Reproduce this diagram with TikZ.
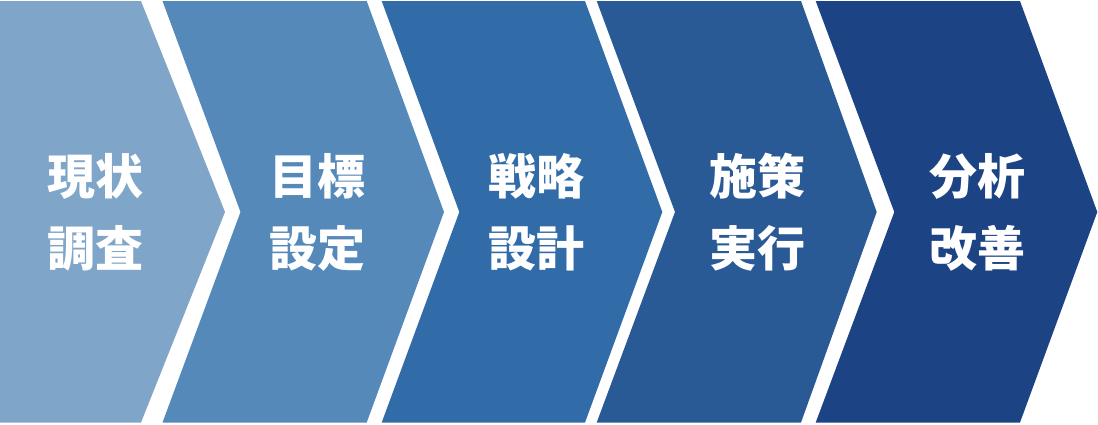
\documentclass[tikz,border=0pt]{standalone}
\usepackage{fontspec}
\newfontfamily\jpfont{Noto Sans CJK JP}
\definecolor{etapaA}{RGB}{127,165,201}
\definecolor{etapaB}{RGB}{84,137,185}
\definecolor{etapaC}{RGB}{49,108,168}
\definecolor{etapaD}{RGB}{41,90,150}
\definecolor{etapaE}{RGB}{28,67,131}
\tikzset{
  rotulo/.style={text=white, align=center, inner sep=0pt,
    font=\jpfont\bfseries\fontsize{48}{72}\selectfont}
}
\begin{document}
\begin{tikzpicture}[x=1pt, y=-1pt]
			\useasboundingbox (0,0) rectangle (1098,424);
			
			% Etapas
			\fill[etapaA] (0,1) -- (141,1) -- (225,212) -- (141,422.5) -- (0,422.5) -- cycle;
			\fill[etapaB] (162.5,1) -- (366.7,1) -- (444,212) -- (366.7,422.5) -- (162.5,422.5) -- (240.5,212) -- cycle;
			\fill[etapaC] (381.7,1) -- (585,1) -- (662.3,212) -- (585,422.5) -- (381.7,422.5) -- (459.3,212) -- cycle;
			\fill[etapaD] (596.7,1) -- (801,1) -- (876.7,212) -- (801,422.5) -- (596.7,422.5) -- (675,212) -- cycle;
			\fill[etapaE] (815.7,1) -- (1020,1) -- (1097.3,212) -- (1020,422.5) -- (815.7,422.5) -- (894.3,212) -- cycle;
			
			% Textos
			\node[rotulo] (genjo) at (95,212.5) {現状\\調査};
			\node[rotulo] (mokuhyo) at (317,212.5) {目標\\設定};
			\node[rotulo] (senryaku) at (536,212.5) {戦略\\設計};
			\node[rotulo] (shisaku) at (757,212.5) {施策\\実行};
			\node[rotulo] (bunseki) at (977,212.5) {分析\\改善};
		\end{tikzpicture}
\end{document}
